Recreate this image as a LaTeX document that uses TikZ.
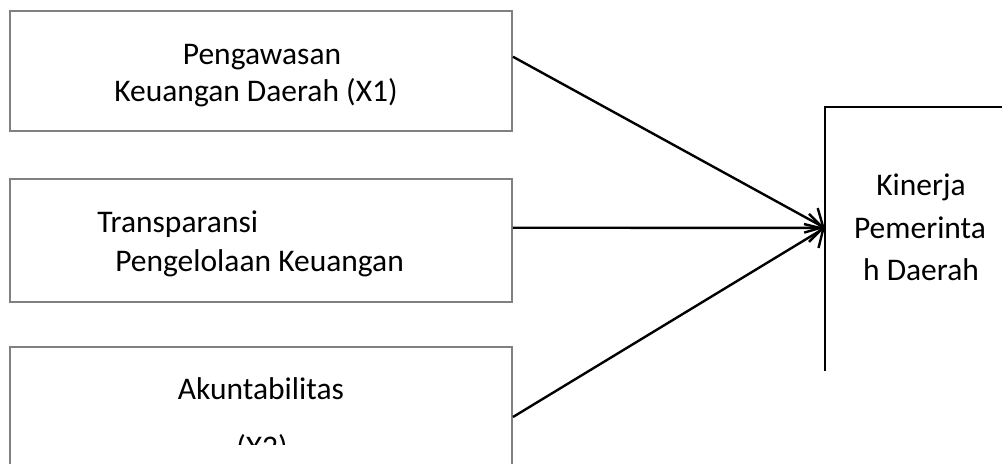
\documentclass[tikz,border=0pt]{standalone}
\usepackage{fontspec}
\setmainfont{Carlito}
\usetikzlibrary{arrows.meta,calc}
\definecolor{boxgray}{RGB}{128,128,128}
\tikzset{
  varbox/.style={draw=boxgray,line width=1.3pt,inner sep=0pt,minimum width=12.55cm},
  lbl/.style={anchor=base,inner sep=0pt,font=\fontsize{22.4}{27}\selectfont},
  link/.style={line width=1.7pt,-{Straight Barb[length=3.5mm,width=7mm]}}
}
\begin{document}
\begin{tikzpicture}[x=0.025cm,y=-0.025cm]
   \clip (0,0) rectangle (1002,464);
   % boxes
   \node[varbox,minimum height=3cm] (pengawasan) at (261,71) {};
   \node[varbox,minimum height=3.075cm] (transparansi) at (261,240.5) {};
   \node[varbox,minimum height=3.5cm] (akuntabilitas) at (261,417) {};
   \node[inner sep=0pt,minimum width=4.75cm,minimum height=6.6cm] (kinerja) at (920,239) {};
   \draw[line width=1.3pt] (kinerja.south west) -- (kinerja.north west) -- (kinerja.north east);
   % texts, cut at the bottom as in the text boxes
   \begin{scope}
      \clip (10,11) rectangle (512,107);
      \node[lbl] (pengawasan1) at (262,65) {Pengawasan};
      \node[lbl] (pengawasan2) at (256,102) {Keuangan Daerah (X1)};
   \end{scope}
   \begin{scope}
      \clip (10,179) rectangle (512,278);
      \node[lbl,anchor=base west] (transparansi1) at (97,233) {Transparansi};
      \node[lbl,anchor=base west] (transparansi2) at (115,272) {Pengelolaan Keuangan};
   \end{scope}
   \begin{scope}
      \clip (10,347) rectangle (512,445);
      \node[lbl] (akuntabilitas1) at (261,400) {Akuntabilitas};
      \node[lbl] (akuntabilitas2) at (262,458) {(X2)};
   \end{scope}
   \node[lbl] (kinerja1) at (921,196) {Kinerja};
   \node[lbl] (kinerja2) at (920,239) {Pemerinta};
   \node[lbl] (kinerja3) at (921,281) {h Daerah};
   % arrows
   \coordinate (out1) at ($(pengawasan.north east)!0.383!(pengawasan.south east)$);
   \coordinate (out2) at ($(transparansi.north east)!0.398!(transparansi.south east)$);
   \coordinate (tip) at ($(kinerja.north west)!0.458!(kinerja.south west)$);
   \draw[link] (out1) -- (tip);
   \draw[link] (out2) -- (tip);
   \draw[link] (akuntabilitas.east) -- (tip);
\end{tikzpicture}
\end{document}
